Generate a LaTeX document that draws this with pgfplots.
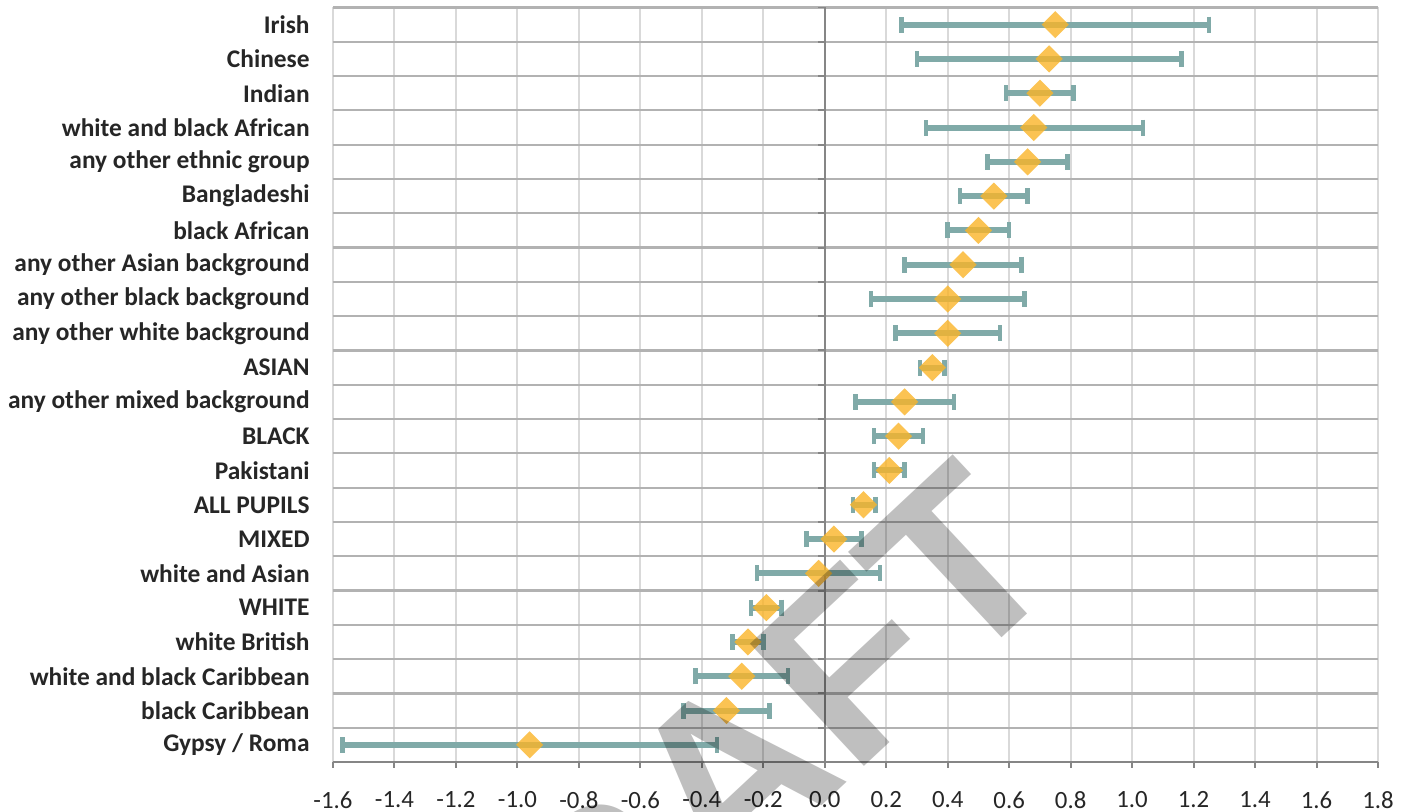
\documentclass[border=0pt]{standalone}
\usepackage{pgfplots}
\pgfplotsset{compat=1.18}
\usepackage{pgfplotstable}
\usepackage{fontspec}
\setmainfont{Carlito}
\newfontfamily\wmfont{Liberation Sans}
\definecolor{vgrid}{RGB}{217,217,217}
\definecolor{hgrid}{RGB}{178,178,178}
\definecolor{axisgray}{RGB}{134,134,134}
\definecolor{errc}{RGB}{128,170,168}
\definecolor{dia}{RGB}{250,180,40}
\definecolor{txt}{RGB}{38,38,38}

\pgfplotstableread{
y mean lo hi
0 -0.96 -1.57 -0.35
1 -0.32 -0.46 -0.18
2 -0.27 -0.42 -0.12
3 -0.25 -0.30 -0.20
4 -0.19 -0.24 -0.14
5 -0.02 -0.22 0.18
6 0.03 -0.06 0.12
7 0.126 0.092 0.166
8 0.21 0.16 0.26
9 0.24 0.16 0.32
10 0.26 0.10 0.42
11 0.35 0.31 0.39
12 0.40 0.23 0.57
13 0.40 0.15 0.65
14 0.45 0.26 0.64
15 0.50 0.40 0.60
16 0.55 0.44 0.66
17 0.66 0.53 0.79
18 0.68 0.33 1.035
19 0.70 0.59 0.81
20 0.73 0.30 1.16
21 0.75 0.25 1.25
}\data

\begin{document}
\begin{tikzpicture}
\begin{axis}[
  scale only axis, width=522.5pt, height=377.25pt,
  xmin=-1.6, xmax=1.8, ymin=-0.5, ymax=21.5,
  axis x line*=bottom, axis y line*=left,
  y axis line style={draw=none},
  x axis line style={axisgray, line width=1.2pt},
  xtick={-1.6,-1.4,-1.2,-1.0,-0.8,-0.6,-0.4,-0.2,0,0.2,0.4,0.6,0.8,1.0,1.2,1.4,1.6,1.8},
  xticklabels={-1.6,-1.4,-1.2,-1.0,-0.8,-0.6,-0.4,-0.2,0.0,0.2,0.4,0.6,0.8,1.0,1.2,1.4,1.6,1.8},
  x tick style={axisgray, line width=1pt},
  tick align=outside, major tick length=3pt,
  ytick={0,...,21},
  yticklabels={Gypsy / Roma, black Caribbean, white and black Caribbean, white British, WHITE, white and Asian, MIXED, ALL PUPILS, Pakistani, BLACK, any other mixed background, ASIAN, any other white background, any other black background, any other Asian background, black African, Bangladeshi, any other ethnic group, white and black African, Indian, Chinese, Irish},
  y tick style={draw=none},
  minor ytick={-0.5,0.5,...,21.5},
  minor tick length=0pt,
  yminorgrids, minor grid style={hgrid, line width=1.1pt},
  xmajorgrids, major grid style={vgrid, line width=1pt},
  yticklabel style={font=\fontsize{12.7}{14}\selectfont\bfseries, text=txt, inner sep=0pt, xshift=-8.5pt},
  xticklabel style={font=\fontsize{12.4}{14}\selectfont, text=txt, inner sep=0pt, anchor=north, yshift=-11.5pt},
]
\coordinate (pa) at (rel axis cs:0,0);
\coordinate (pb) at (rel axis cs:1,1);
\coordinate (wm) at (axis cs:0.797,4.95);
\draw[axisgray, line width=1pt] (axis cs:0,-0.5) -- (axis cs:0,21.5);
\pgfplotsinvokeforeach{-0.5,0.5,1.5,2.5,3.5,4.5,5.5,6.5,7.5,8.5,9.5,10.5,11.5,12.5,13.5,14.5,15.5,16.5,17.5,18.5,19.5,20.5,21.5}{
  \draw[axisgray, line width=1pt] (axis cs:0,#1) -- ++(-3.5pt,0pt);
}
\addplot[draw=none, mark=none,
  error bars/.cd, x dir=both, x explicit,
  error mark=|,
  error bar style={draw=errc, line width=3pt},
  error mark options={draw=errc, line width=2.3pt, mark size=4pt}]
  table[x=mean, y=y, x error plus expr=\thisrow{hi}-\thisrow{mean}, x error minus expr=\thisrow{mean}-\thisrow{lo}] {\data};
\addplot[only marks, mark=square*, mark size=4.8pt,
  mark options={rotate=45, fill=dia, draw=dia, draw opacity=0, fill opacity=0.8}]
  table[x=mean, y=y] {\data};
\end{axis}
\begin{scope}
\clip ([shift={(-166.5pt,-25pt)}]pa) rectangle ([shift={(17.5pt,3.75pt)}]pb);
\node[rotate=43, anchor=base east, inner sep=0pt, text=black, text opacity=0.25,
  font=\wmfont\fontsize{121.5}{121.5}\selectfont\bfseries] at (wm) {DRAFT};
\end{scope}
\pgfresetboundingbox
\useasboundingbox ([shift={(-166.5pt,-25pt)}]pa) rectangle ([shift={(17.5pt,3.75pt)}]pb);
\end{tikzpicture}
\end{document}
